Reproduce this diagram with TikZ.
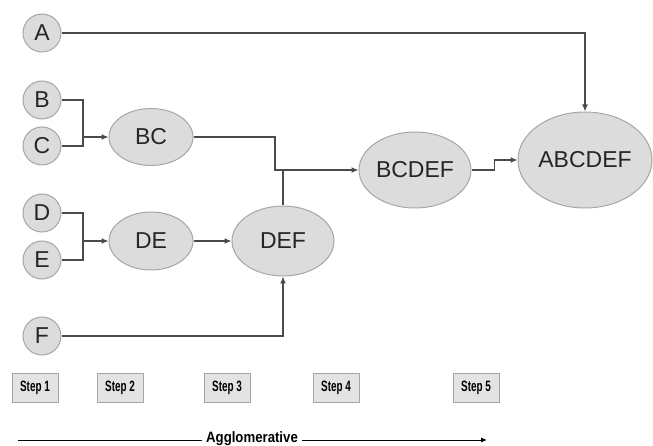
\documentclass[tikz,border=0pt]{standalone}
\usepackage{fontspec}
\setmainfont{Liberation Sans}
\newfontfamily\stepfont[FakeStretch=0.66]{Liberation Sans}
\newfontfamily\dirfont[FakeStretch=0.88]{Liberation Sans}
\usetikzlibrary{arrows.meta,shapes.geometric}
\definecolor{nodefill}{HTML}{DCDCDC}
\definecolor{nodeline}{HTML}{A6A6A6}
\definecolor{wire}{HTML}{4A4A4A}
\tikzset{
  leaf/.style={circle,draw=nodeline,fill=nodefill,line width=1pt,
    minimum size=38pt,inner sep=0pt,text=black!85,font=\fontsize{23}{23}\selectfont},
  cluster/.style={ellipse,draw=nodeline,fill=nodefill,line width=1pt,
    inner sep=0pt,text=black!85,font=\fontsize{23}{23}\selectfont},
  stepbox/.style={rectangle,draw=nodeline,fill=nodefill!80!white,line width=1pt,
    minimum width=46pt,minimum height=29pt,inner sep=0pt,
    font=\stepfont\bfseries\fontsize{15}{15}\selectfont},
  wire/.style={draw=wire,line width=1.2pt},
  link/.style={wire,-{Latex[length=7pt,width=6pt]}},
}

\begin{document}
\begin{tikzpicture}[x=1pt,y=-1pt]
  \useasboundingbox (0,0) rectangle (653,446);

  % Leaves
  \node[leaf] (A) at (42,33)  {A};
  \node[leaf] (B) at (42,100) {B};
  \node[leaf] (C) at (42,146) {C};
  \node[leaf] (D) at (42,213) {D};
  \node[leaf] (E) at (42,260) {E};
  \node[leaf] (F) at (42,336) {F};

  % Clusters
  \node[cluster,minimum width=84pt,minimum height=57pt]  (BC)     at (151,137) {BC};
  \node[cluster,minimum width=84pt,minimum height=58pt]  (DE)     at (151,241) {DE};
  \node[cluster,minimum width=102pt,minimum height=70pt] (DEF)    at (283,241) {DEF};
  \node[cluster,minimum width=112pt,minimum height=76pt] (BCDEF)  at (415,170) {BCDEF};
  \node[cluster,minimum width=134pt,minimum height=96pt] (ABCDEF) at (585,160) {ABCDEF};

  % Joins
  \coordinate (bcjoin) at (83,137);
  \coordinate (dejoin) at (83,241);
  \coordinate (knee)   at (275,170);

  % Links
  \draw[wire] (B.east) -| (bcjoin);
  \draw[wire] (C.east) -| (bcjoin);
  \draw[link] (bcjoin) -- (BC.west);
  \draw[wire] (D.east) -| (dejoin);
  \draw[wire] (E.east) -| (dejoin);
  \draw[link] (dejoin) -- (DE.west);
  \draw[link] (DE.east) -- (DEF.west);
  \draw[link] (F.east) -| (DEF.south);
  \draw[link] (BC.east) -| (knee) -- (BCDEF.west);
  \draw[wire] (DEF.north) -- (DEF.north |- knee);
  \draw[link] (BCDEF.east) -- ++(23,0) |- (ABCDEF.west);
  \draw[link] (A.east) -| (ABCDEF.north);

  % Steps
  \foreach \n/\x in {1/35,2/120,3/227,4/336,5/476}
    \node[stepbox] (step\n) at (\x,388) {Step \n};

  % Direction
  \node[font=\dirfont\bfseries\fontsize{15}{15}\selectfont,inner sep=4pt] (agglo) at (252,439) {Agglomerative};
  \coordinate (dirstart) at (18,440);
  \coordinate (dirend) at (487,440);
  \draw[draw=black,line width=1pt] (dirstart) -- (dirstart -| agglo.west);
  \draw[draw=black,line width=1pt,-{Latex[length=6pt,width=5pt]}] (dirend -| agglo.east) -- (dirend);
\end{tikzpicture}
\end{document}
